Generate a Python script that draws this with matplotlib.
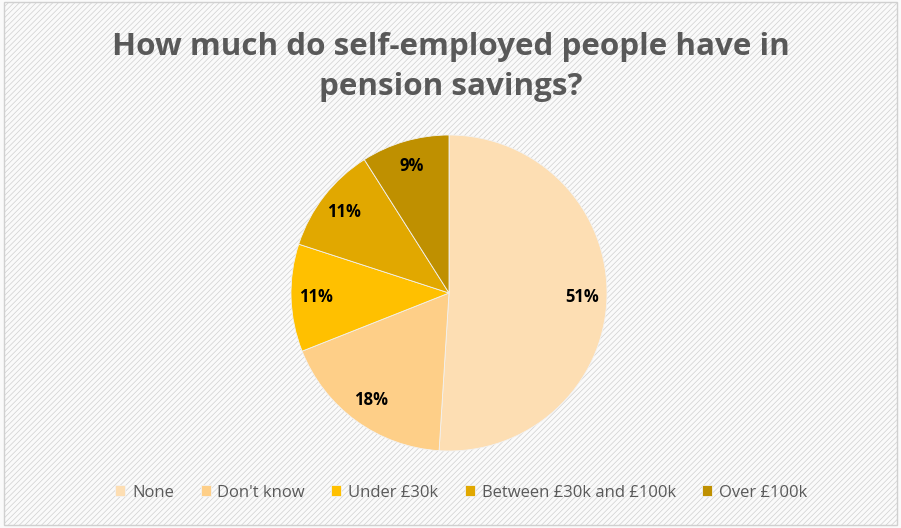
import matplotlib.pyplot as plt
from matplotlib.patches import Rectangle

# Pie data
labels = ['None', "Don't know", 'Under £30k', 'Between £30k and £100k', 'Over £100k']
shares = [51, 18, 11, 11, 9]
colors = ['#FDDEB3', '#FECF88', '#FFC000', '#E1A800', '#BF9000']

plt.rcParams['font.family'] = ['Open Sans', 'DejaVu Sans']
plt.rcParams['hatch.color'] = '#F1F1F1'
plt.rcParams['hatch.linewidth'] = 0.5

fig = plt.figure(figsize=(9.01, 5.28), dpi=100)
fig.patch.set_facecolor('#FAFAFA')

# Light diagonal texture and thin border like the source chart
bg = Rectangle((0.004, 0.006), 0.992, 0.99, transform=fig.transFigure,
               facecolor='#FAFAFA', edgecolor='#D0D0D0', hatch='//////',
               linewidth=1.0, zorder=-5)
fig.patches.append(bg)

# Title
fig.text(0.5, 0.873, 'How much do self-employed people have in\npension savings?',
         ha='center', va='center', fontsize=22.6, fontweight='bold',
         color='#595959', linespacing=1.45)

# Pie axes: centre ~ (449, 293) px, radius ~ 158 px
r = 158
cx, cy = 449, 528 - 293
ax = fig.add_axes([(cx - r) / 901, (cy - r) / 528, 2 * r / 901, 2 * r / 528])
ax.set_zorder(2)
wedges, texts, autotexts = ax.pie(
    shares, colors=colors, startangle=90, counterclock=False,
    autopct='%d%%', pctdistance=0.84,
    wedgeprops=dict(edgecolor='#F2F2F2', linewidth=0.6),
    textprops=dict(fontsize=12, fontweight='bold', color='black'))
ax.set_xlim(-1, 1)
ax.set_ylim(-1, 1)
ax.set_aspect('equal')

# Legend along the bottom
leg = fig.legend(wedges, labels, loc='center', bbox_to_anchor=(0.512, 0.067),
                 ncol=5, frameon=False, fontsize=12, handlelength=0.6,
                 handleheight=0.6, handletextpad=0.4, columnspacing=1.6)
for t in leg.get_texts():
    t.set_color('#595959')

fig.savefig('out.png', dpi=100, facecolor=fig.get_facecolor())
